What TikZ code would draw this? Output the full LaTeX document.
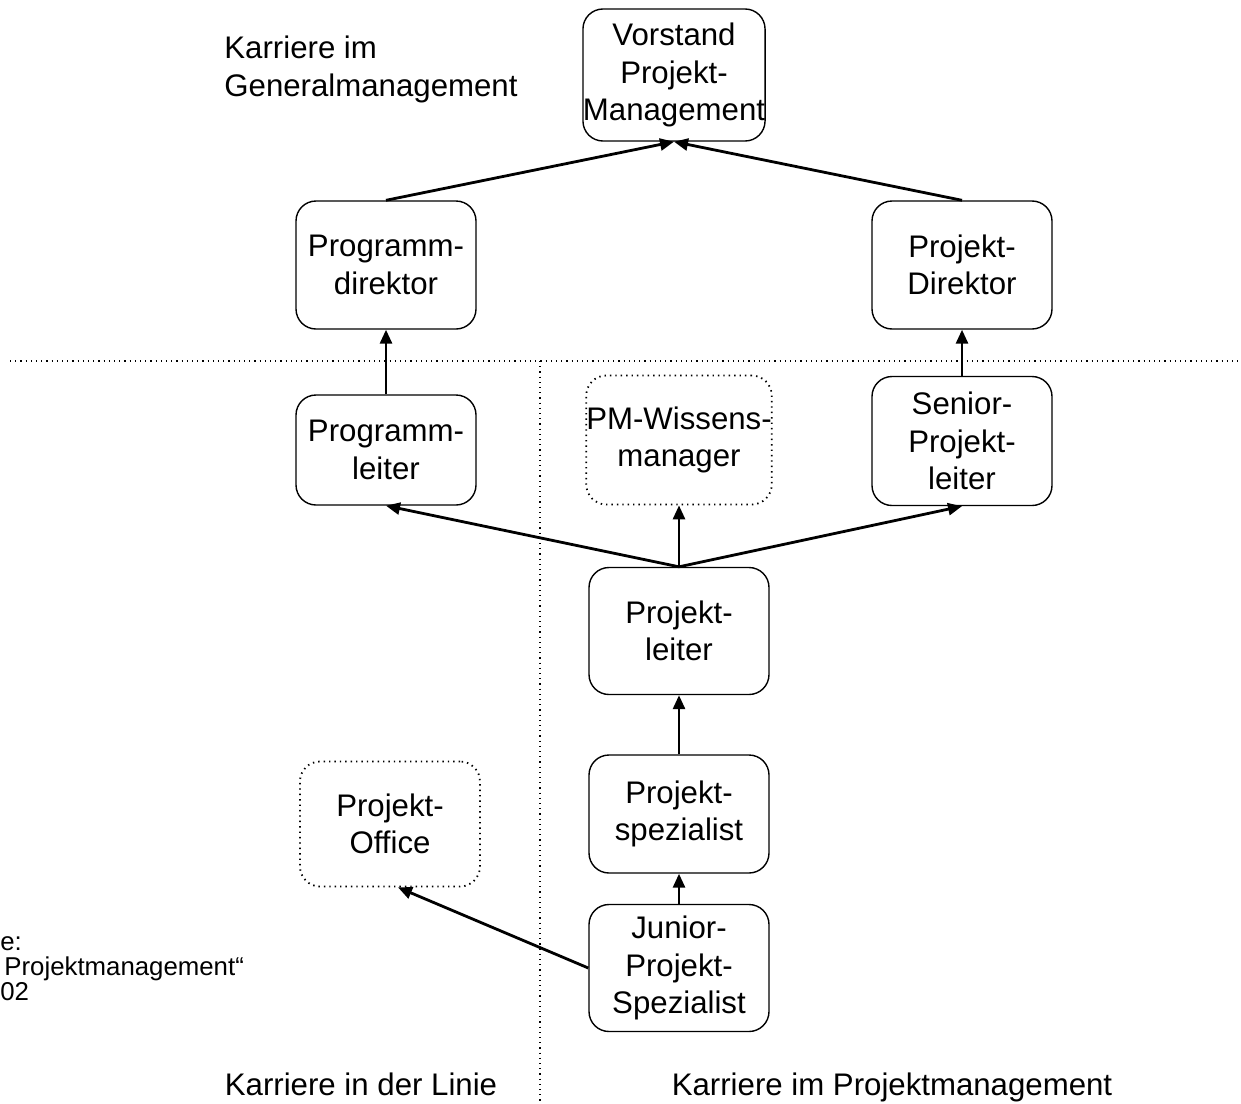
\documentclass[tikz,border=0pt]{standalone}
\usepackage{fontspec}
\setmainfont{Liberation Sans}
\usetikzlibrary{arrows.meta,positioning,calc}
\tikzset{
  stufe/.style={rectangle, rounded corners=10pt, draw=black, line width=0.7pt, align=center,
                minimum width=90pt, minimum height=#1, inner sep=0pt, font=\fontsize{15.6}{18.7}\selectfont},
  stufe/.default=64pt,
  neben/.style={stufe=#1, dotted, line width=0.9pt},
  neben/.default=64pt,
  arr/.style={-{Triangle[length=7pt,width=6pt]}, line width=1.4pt},
  trenn/.style={dotted, line width=0.6pt},
  lbl/.style={font=\fontsize{15.6}{19}\selectfont, inner sep=0pt},
}

\begin{document}
\begin{tikzpicture}[x=0.5pt, y=-0.5pt]
\useasboundingbox (0,0) rectangle (1241,1103);
% Trennlinien
\coordinate (hl) at (10,361);
\coordinate (hr) at (1241,361);
\coordinate (vo) at (540,361);
\coordinate (vu) at (540,1103);
\draw[trenn] (hl) -- (hr);
\draw[trenn] (vo) -- (vu);
% Stufen
\node[stufe=66pt, minimum width=91pt] (vorstand) at (674,75) {Vorstand\\Projekt-\\Management};
\node[stufe] (progdir) at (386,265) {Programm-\\direktor};
\node[stufe] (projdir) at (962,265) {Projekt-\\Direktor};
\node[stufe=55pt] (progleit) at (386,450) {Programm-\\leiter};
\node[neben=64.5pt] (wissen) at (679,440) {PM-Wissens-\\manager};
\node[stufe=64.5pt] (senior) at (962,441) {Senior-\\Projekt-\\leiter};
\node[stufe=63.5pt] (projleit) at (679,631) {Projekt-\\leiter};
\node[stufe=59pt] (spez) at (679,814) {Projekt-\\spezialist};
\node[stufe=63.5pt] (junior) at (679,968) {Junior-\\Projekt-\\Spezialist};
\node[neben=62.5pt] (office) at (390,824) {Projekt-\\Office};
% Pfeile
\draw[arr] (progdir.north) -- (vorstand.south);
\draw[arr] (projdir.north) -- (vorstand.south);
\draw[arr] (progleit) -- (progdir);
\draw[arr] (senior) -- (projdir);
\draw[arr] (projleit.north) -- (progleit.south);
\draw[arr] (projleit.north) -- (wissen.south);
\draw[arr] (projleit.north) -- (senior.south);
\draw[arr] (spez) -- (projleit);
\draw[arr] (junior) -- (spez);
\draw[arr] (junior.west) -- ($(office.south)+(8,0)$);
% Beschriftungen
\node[lbl, anchor=west, align=left] (tgm) at (224,69) {Karriere im\\Generalmanagement};
\node[lbl, anchor=base] (tlinie) at (361,1095) {Karriere in der Linie};
\node[lbl, anchor=base] (tpm) at (892,1095) {Karriere im Projektmanagement};
\node[inner sep=0pt, anchor=west, align=left, font=\fontsize{12.9}{12.5}\selectfont] (quelle) at (0,969)
  {e:\\\hspace*{2pt}Projektmanagement“\\02};
\end{tikzpicture}
\end{document}
